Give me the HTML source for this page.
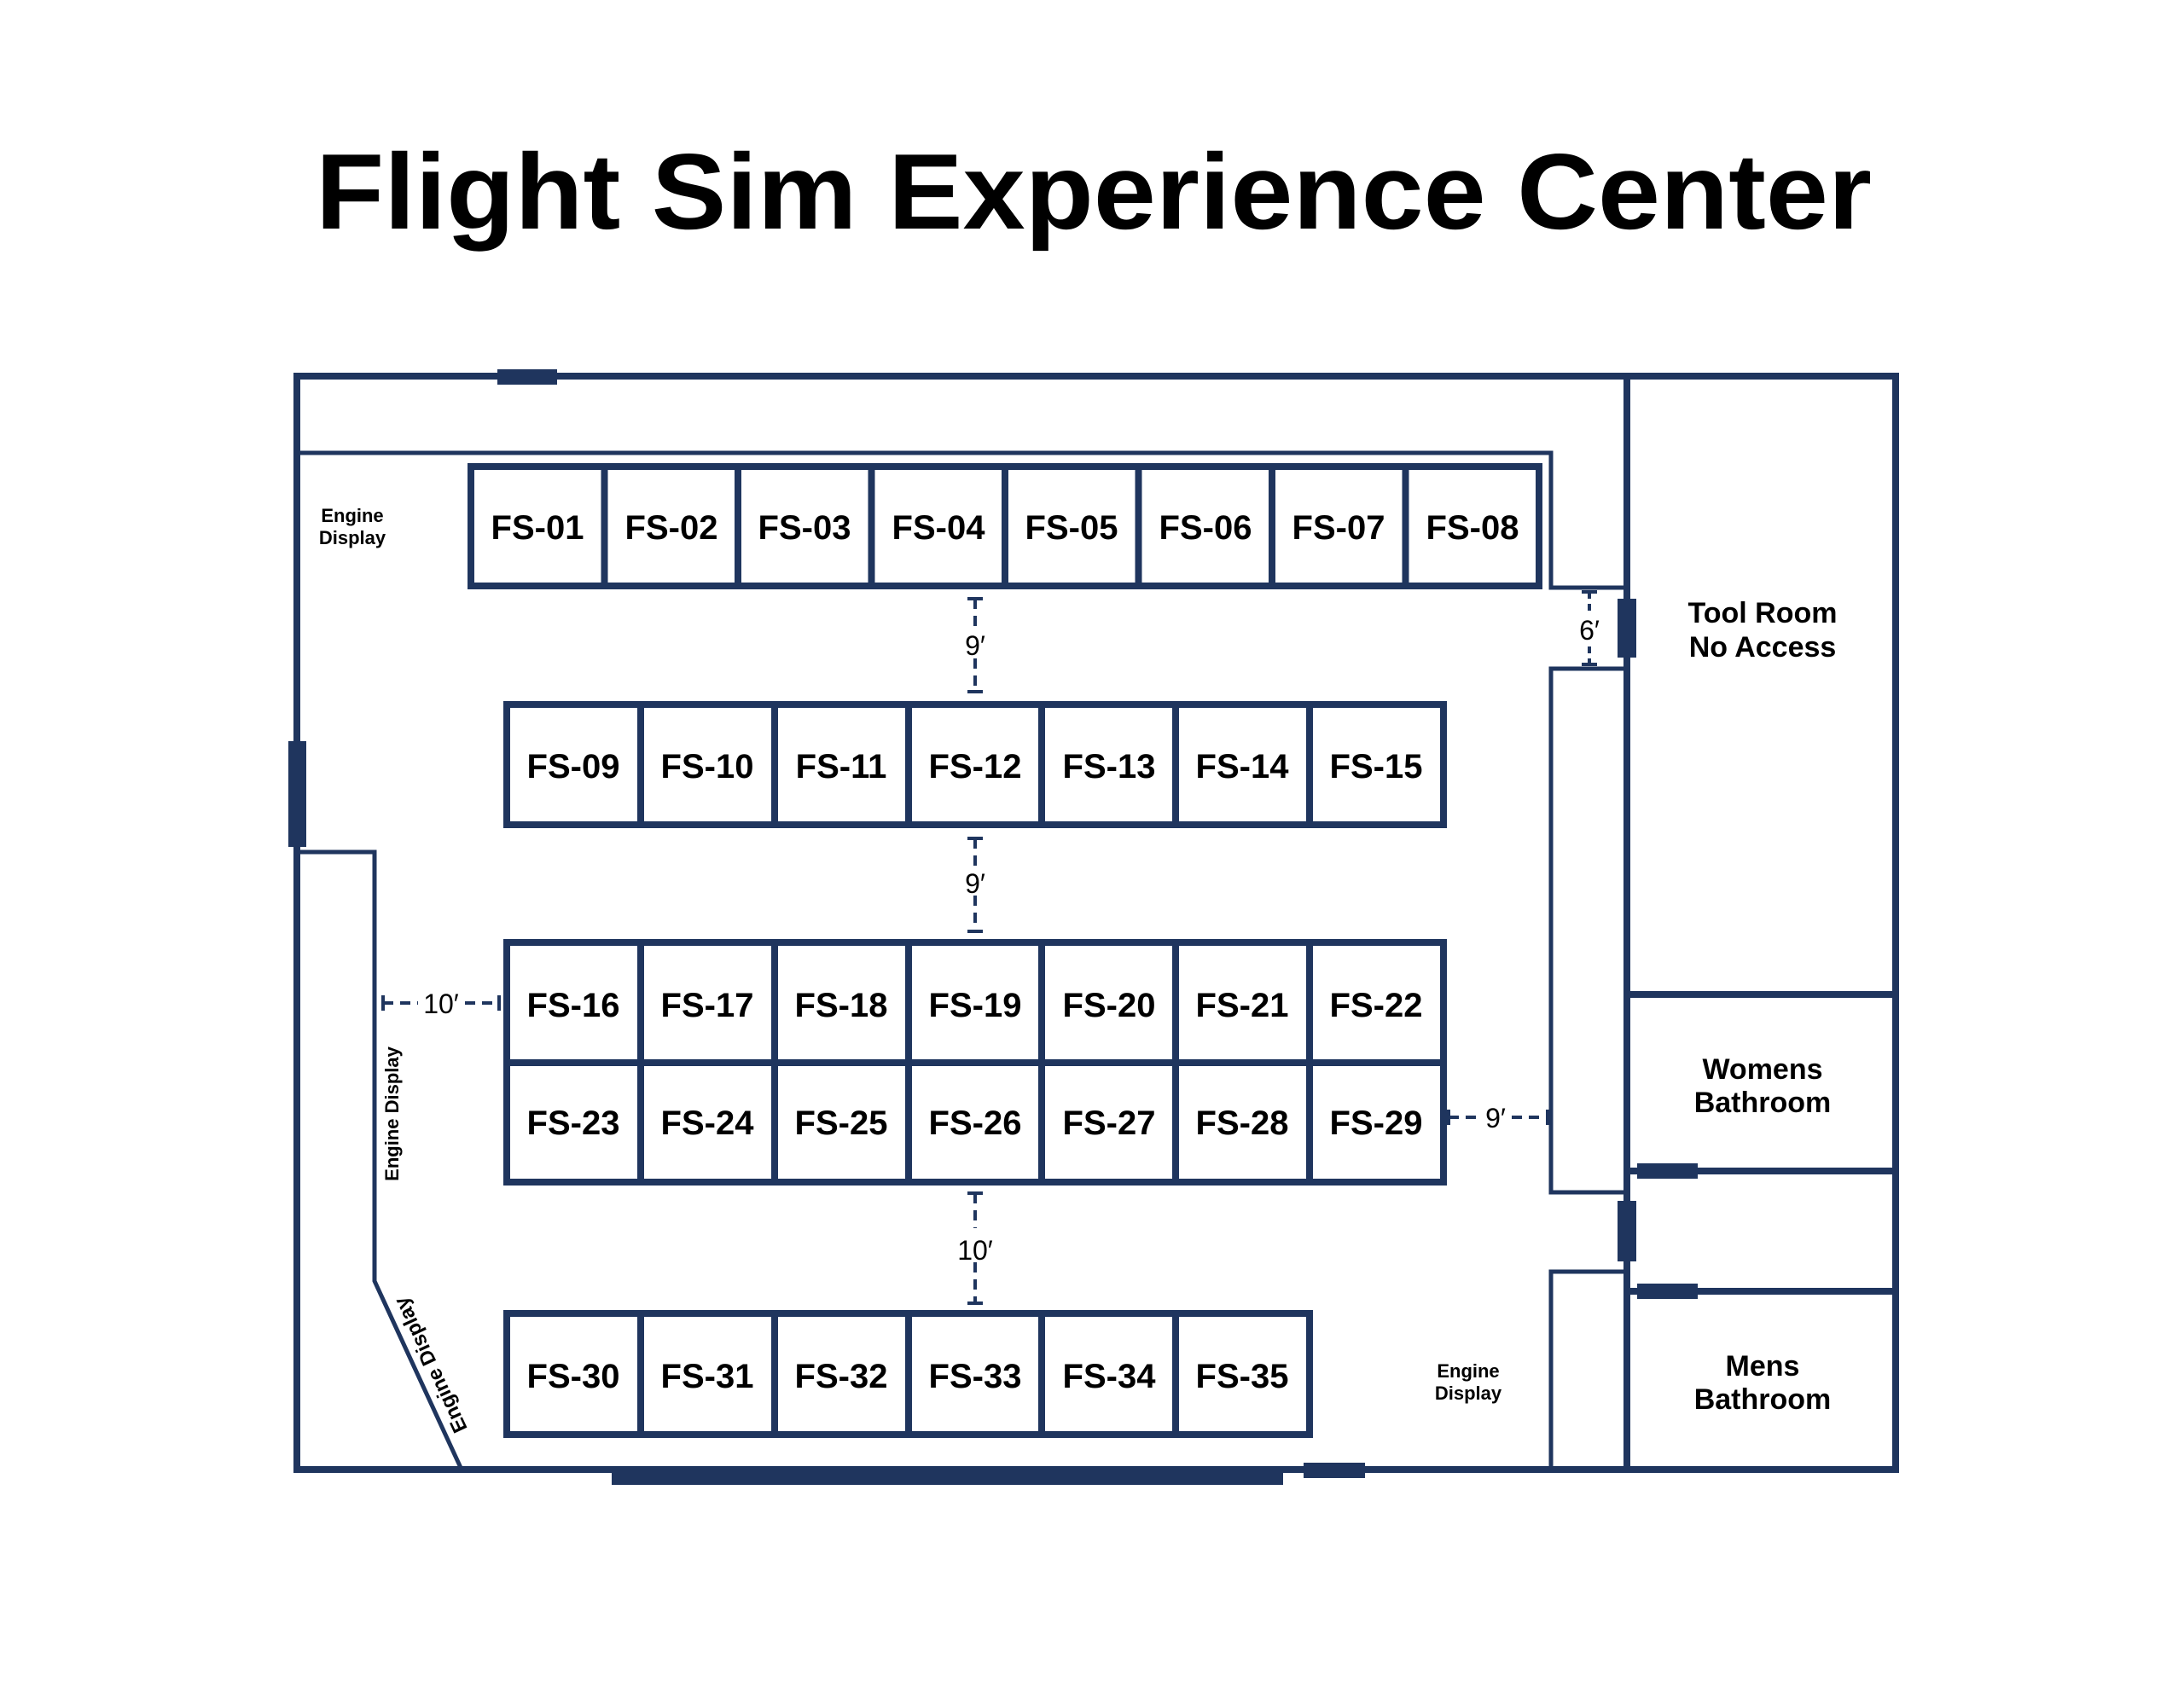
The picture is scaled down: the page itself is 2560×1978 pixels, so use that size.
<!DOCTYPE html>
<html><head><meta charset="utf-8"><style>
html,body{margin:0;padding:0;background:#fff;}
svg{display:block;}
text{font-family:"Liberation Sans",sans-serif;font-weight:bold;fill:#000;}
</style></head><body>
<svg width="2560" height="1978" viewBox="0 0 2560 1978" xmlns="http://www.w3.org/2000/svg">
<text x="370" y="268" font-size="126" textLength="1824" lengthAdjust="spacingAndGlyphs">Flight Sim Experience Center</text>
<g fill="none" stroke="#1f355e" stroke-width="8">
  <rect x="348" y="441" width="1874" height="1282"/>
  <line x1="1907" y1="441" x2="1907" y2="1723"/>
  <line x1="1907" y1="1166" x2="2222" y2="1166"/>
  <line x1="1907" y1="1373" x2="2222" y2="1373"/>
  <line x1="1907" y1="1514" x2="2222" y2="1514"/>
</g>
<g fill="none" stroke="#1f355e" stroke-width="5">
  <polyline points="348,531 1818,531 1818,689 1907,689"/>
  <polyline points="1907,784 1818,784 1818,1398 1907,1398"/>
  <polyline points="1907,1491 1818,1491 1818,1723"/>
  <polyline points="348,999 439,999 439,1502 541,1723"/>
</g>
<g fill="#1f355e">
  <rect x="583" y="433" width="70" height="18"/>
  <rect x="338" y="869" width="21" height="124"/>
  <rect x="1896" y="702" width="22" height="69"/>
  <rect x="1896" y="1408" width="22" height="71"/>
  <rect x="1919" y="1364" width="71" height="18"/>
  <rect x="1919" y="1505" width="71" height="18"/>
  <rect x="717" y="1723" width="787" height="18"/>
  <rect x="1528" y="1715" width="72" height="18"/>
</g>
<g fill="none" stroke="#1f355e" stroke-width="8">
  <rect x="552" y="547" width="1252" height="140"/>
  <path d="M708.5 547V687M865 547V687M1021.5 547V687M1178 547V687M1334.5 547V687M1491 547V687M1647.5 547V687"/>
  <rect x="594" y="826" width="1098" height="141"/>
  <path d="M751 826V967M908 826V967M1065 826V967M1221 826V967M1378 826V967M1535 826V967"/>
  <rect x="594" y="1105" width="1098" height="281"/>
  <path d="M594 1246H1692M751 1105V1386M908 1105V1386M1065 1105V1386M1221 1105V1386M1378 1105V1386M1535 1105V1386"/>
  <rect x="594" y="1540" width="941" height="142"/>
  <path d="M751 1540V1682M908 1540V1682M1065 1540V1682M1221 1540V1682M1378 1540V1682"/>
</g>
<g fill="#000" font-size="40" text-anchor="middle">
  <text x="630" y="632">FS-01</text><text x="787" y="632">FS-02</text><text x="943" y="632">FS-03</text><text x="1100" y="632">FS-04</text><text x="1256" y="632">FS-05</text><text x="1413" y="632">FS-06</text><text x="1569" y="632">FS-07</text><text x="1726" y="632">FS-08</text>
  <text x="672" y="912">FS-09</text><text x="829" y="912">FS-10</text><text x="986" y="912">FS-11</text><text x="1143" y="912">FS-12</text><text x="1300" y="912">FS-13</text><text x="1456" y="912">FS-14</text><text x="1613" y="912">FS-15</text>
  <text x="672" y="1192">FS-16</text><text x="829" y="1192">FS-17</text><text x="986" y="1192">FS-18</text><text x="1143" y="1192">FS-19</text><text x="1300" y="1192">FS-20</text><text x="1456" y="1192">FS-21</text><text x="1613" y="1192">FS-22</text>
  <text x="672" y="1330">FS-23</text><text x="829" y="1330">FS-24</text><text x="986" y="1330">FS-25</text><text x="1143" y="1330">FS-26</text><text x="1300" y="1330">FS-27</text><text x="1456" y="1330">FS-28</text><text x="1613" y="1330">FS-29</text>
  <text x="672" y="1627">FS-30</text><text x="829" y="1627">FS-31</text><text x="986" y="1627">FS-32</text><text x="1143" y="1627">FS-33</text><text x="1300" y="1627">FS-34</text><text x="1456" y="1627">FS-35</text>
</g>
<g font-size="34" text-anchor="middle">
  <text x="2066" y="730">Tool Room</text><text x="2066" y="770">No Access</text>
  <text x="2066" y="1265">Womens</text><text x="2066" y="1304">Bathroom</text>
  <text x="2066" y="1613">Mens</text><text x="2066" y="1652">Bathroom</text>
</g>
<g font-size="22" text-anchor="middle">
  <text x="413" y="612">Engine</text><text x="413" y="638">Display</text>
  <text x="1721" y="1615">Engine</text><text x="1721" y="1641">Display</text>
  <text transform="translate(467,1306) rotate(-90)">Engine Display</text>
  <text transform="translate(512,1597) rotate(-114.8)" font-size="24">Engine Display</text>
</g>
<g stroke="#1f355e" stroke-width="4" fill="none">
  <path d="M1143 702V742M1143 772V811" stroke-dasharray="12,8"/>
  <path d="M1134 702H1152M1134 811H1152M1134 983H1152M1134 1092H1152M1134 1399H1152M1134 1528H1152M449 1167V1185M585 1167V1185M1698 1301V1319M1814 1301V1319M1854 694H1872M1854 779H1872"/>
  <path d="M1143 983V1015M1143 1050V1092" stroke-dasharray="12,8"/>
  <path d="M1143 1399V1440M1143 1480V1528" stroke-dasharray="12,8"/>
  <path d="M449 1176H490M545 1176H585" stroke-dasharray="12,8"/>
  <path d="M1698 1310H1735M1772 1310H1814" stroke-dasharray="12,8"/>
  <path d="M1863 694V718M1863 758V779" stroke-dasharray="8,6"/>
</g>
<g font-size="32" text-anchor="middle">
  <text x="1143" y="768" style="font-weight:normal">9′</text>
  <text x="1143" y="1047" style="font-weight:normal">9′</text>
  <text x="1143" y="1477" style="font-weight:normal">10′</text>
  <text x="517" y="1188" style="font-weight:normal">10′</text>
  <text x="1753" y="1322" style="font-weight:normal">9′</text>
  <text x="1863" y="750" style="font-weight:normal">6′</text>
</g>
</svg>
</body></html>
